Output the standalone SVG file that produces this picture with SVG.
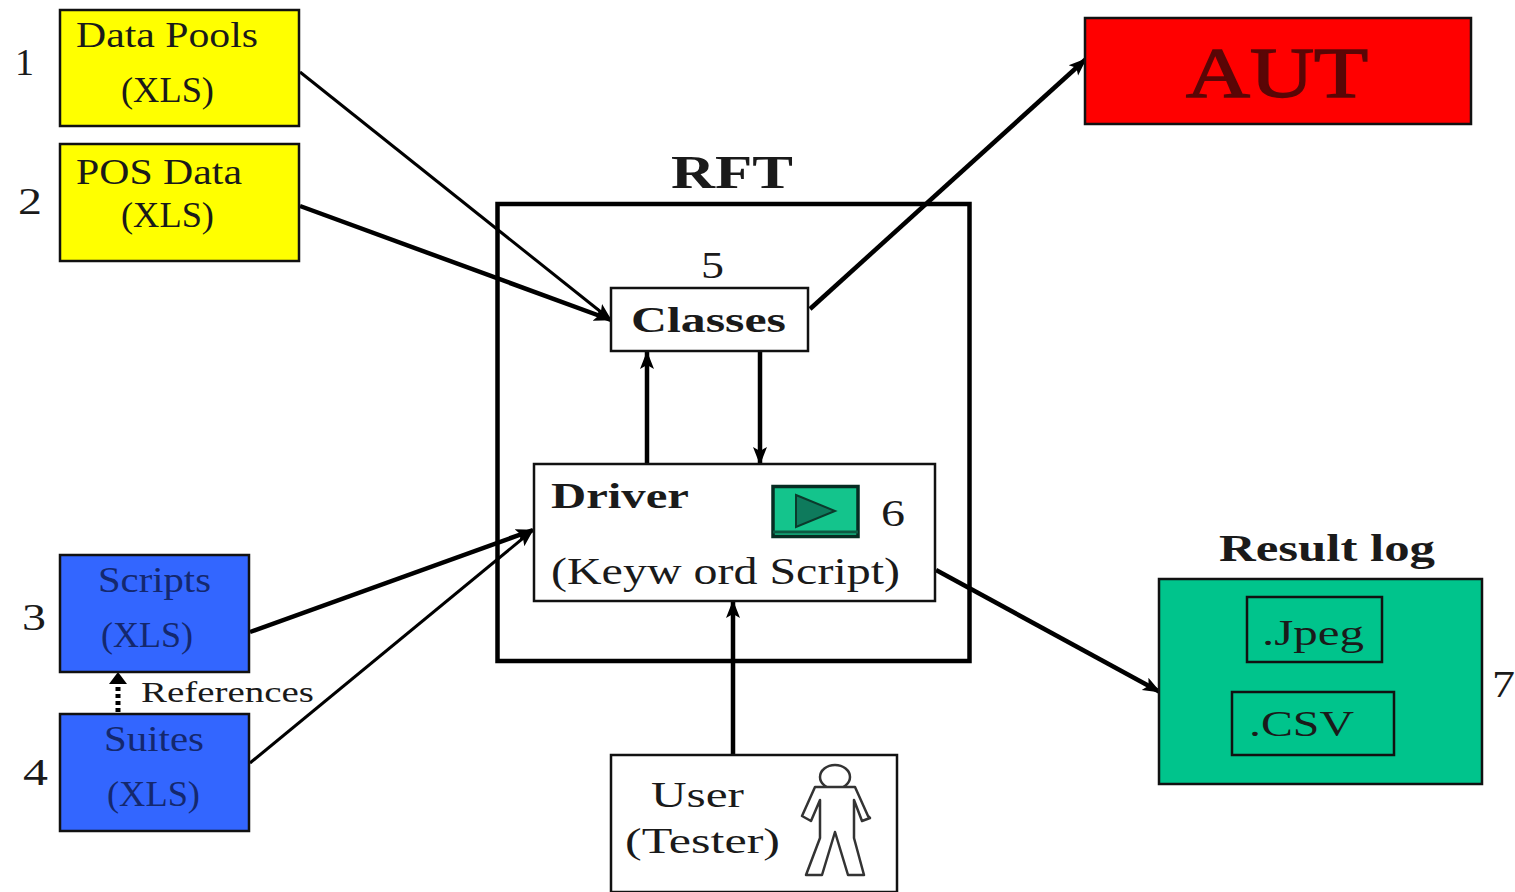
<svg xmlns="http://www.w3.org/2000/svg" width="1515" height="892" viewBox="0 0 1515 892">
<style>
text{font-family:"Liberation Serif","Times New Roman",serif;fill:#1a1a1a}
.n{font-size:38px}
.t{font-size:36px}
.b{font-weight:bold}
.box{stroke:#111;stroke-width:2.5}
.c{fill:none;stroke:#000;stroke-width:3}
.k{fill:none;stroke:#000;stroke-width:4.500}
.bl{fill:#14286e}
</style>
<defs>
<marker id="a" markerUnits="userSpaceOnUse" markerWidth="20" markerHeight="16" refX="17" refY="8" orient="auto"><path d="M0 1L18 8L0 15L4 8Z" fill="#000"/></marker>
</defs>
<rect width="1515" height="892" fill="#fff"/>
<g id="rft">
<rect x="497.500" y="204" width="472" height="457" fill="#fff" stroke="#000" stroke-width="4.500"/>
<text x="732" y="188" text-anchor="middle" class="b" font-size="47" textLength="122" lengthAdjust="spacingAndGlyphs">RFT</text>
</g>
<g id="connectors">
<path class="c" d="M300 72L611 320" marker-end="url(#a)"/>
<path class="k" d="M300 206L611 320" marker-end="url(#a)"/>
<path class="k" d="M810 309L1086 59" marker-end="url(#a)"/>
<path class="k" d="M647 463V352" marker-end="url(#a)"/>
<path class="k" d="M760 352V464" marker-end="url(#a)"/>
<path class="k" d="M250 632L533 530" marker-end="url(#a)"/>
<path class="c" d="M250 763L533 530" marker-end="url(#a)"/>
<path class="k" d="M733 754V601" marker-end="url(#a)"/>
<path class="k" d="M936 570L1160 692" marker-end="url(#a)"/>
<path d="M118 712V682" fill="none" stroke="#000" stroke-width="5" stroke-dasharray="4 3"/>
<path d="M118 672L127 684H109Z" fill="#000"/>
</g>
<g id="node-1"><rect class="box" x="60" y="10" width="239" height="116" fill="#ffff00"/>
<text class="t" x="76" y="47" textLength="182" lengthAdjust="spacingAndGlyphs">Data Pools</text><text class="t" x="121" y="102" textLength="93" lengthAdjust="spacingAndGlyphs">(XLS)</text>
<text class="n" x="15" y="75" textLength="19" lengthAdjust="spacingAndGlyphs">1</text></g>
<g id="node-2"><rect class="box" x="60" y="144" width="239" height="117" fill="#ffff00"/>
<text class="t" x="76" y="184" textLength="166" lengthAdjust="spacingAndGlyphs">POS Data</text><text class="t" x="121" y="227" textLength="93" lengthAdjust="spacingAndGlyphs">(XLS)</text>
<text class="n" x="18" y="214" textLength="24" lengthAdjust="spacingAndGlyphs">2</text></g>
<g id="node-3"><rect class="box" x="60" y="555" width="189" height="117" fill="#3366ff"/>
<text class="t bl" x="98" y="592" textLength="113" lengthAdjust="spacingAndGlyphs">Scripts</text><text class="t bl" x="101" y="647" textLength="92" lengthAdjust="spacingAndGlyphs">(XLS)</text>
<text class="n" x="22" y="630" textLength="24" lengthAdjust="spacingAndGlyphs">3</text></g>
<g id="node-4"><rect class="box" x="60" y="714" width="189" height="117" fill="#3366ff"/>
<text class="t bl" x="104" y="751" textLength="100" lengthAdjust="spacingAndGlyphs">Suites</text><text class="t bl" x="107" y="806" textLength="93" lengthAdjust="spacingAndGlyphs">(XLS)</text>
<text class="n" x="23" y="785" textLength="25" lengthAdjust="spacingAndGlyphs">4</text></g>
<text id="references" x="141" y="702" font-size="29" textLength="173" lengthAdjust="spacingAndGlyphs">References</text>
<g id="node-aut"><rect class="box" x="1085" y="18" width="386" height="106" fill="#ff0000"/>
<text x="1277" y="97" text-anchor="middle" font-size="72" stroke="#5a0606" stroke-width="1.500" textLength="182" lengthAdjust="spacingAndGlyphs" style="fill:#5a0606">AUT</text></g>
<g id="node-classes"><rect class="box" x="611" y="288" width="197" height="63" fill="#fff"/>
<text class="b" x="631" y="332" font-size="36" textLength="155" lengthAdjust="spacingAndGlyphs">Classes</text>
<text class="n" x="701" y="278" textLength="23" lengthAdjust="spacingAndGlyphs">5</text></g>
<g id="node-driver"><rect class="box" x="534" y="464" width="401" height="137" fill="#fff"/>
<text class="b" x="551" y="508" font-size="36" textLength="138" lengthAdjust="spacingAndGlyphs">Driver</text>
<text x="551" y="584" font-size="37" textLength="349" lengthAdjust="spacingAndGlyphs">(Keyw ord Script)</text>
<rect x="773" y="486.500" width="85" height="50" fill="#14c48c" stroke="#062c22" stroke-width="3.500"/>
<path d="M773 532H858" stroke="#0d5a43" stroke-width="3"/>
<path d="M796 495L835 511L796 527Z" fill="#0e7a5c" stroke="#0b3a2c" stroke-width="2"/>
<text class="n" x="881" y="526" textLength="24" lengthAdjust="spacingAndGlyphs">6</text></g>
<g id="node-user"><rect class="box" x="611" y="755" width="286" height="137" fill="#fff"/>
<text class="t" x="651" y="807" textLength="93" lengthAdjust="spacingAndGlyphs">User</text><text class="t" x="625" y="853" textLength="155" lengthAdjust="spacingAndGlyphs">(Tester)</text>
<ellipse cx="835" cy="777" rx="15" ry="12" fill="#fff" stroke="#333" stroke-width="2.500"/>
<path d="M815 787H855L868 816L870 818L862 821L854 800V838L864 875H848L835 832L822 875H806L820 838V800L811 821L802 816Z" fill="#fff" stroke="#333" stroke-width="2.500" stroke-linejoin="round"/></g>
<g id="node-log"><rect class="box" x="1159" y="579" width="323" height="205" fill="#00c48c"/>
<text x="1327" y="561" text-anchor="middle" class="b" font-size="38" textLength="216" lengthAdjust="spacingAndGlyphs">Result log</text>
<rect class="box" x="1247" y="597" width="135" height="65" fill="#00c48c"/>
<text class="t" x="1262" y="645" textLength="102" lengthAdjust="spacingAndGlyphs">.Jpeg</text>
<rect class="box" x="1232" y="692" width="162" height="63" fill="#00c48c"/>
<text class="t" x="1249" y="736" textLength="105" lengthAdjust="spacingAndGlyphs">.CSV</text>
<text class="n" x="1492" y="697" textLength="23" lengthAdjust="spacingAndGlyphs">7</text></g>
</svg>
